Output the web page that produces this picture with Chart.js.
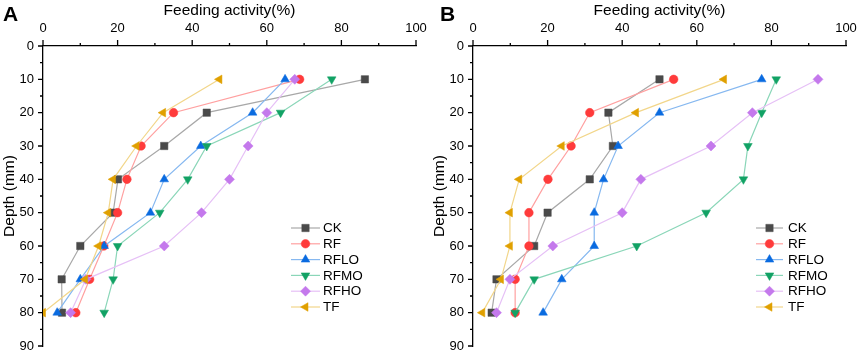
<!DOCTYPE html>
<html>
<head>
<meta charset="utf-8">
<script src="https://cdn.jsdelivr.net/npm/chart.js@4.4.1/dist/chart.umd.min.js"></script>
<style>
html,body{margin:0;padding:0;background:#fff;}
#wrap{position:relative;width:858px;height:352px;overflow:hidden;}
.pane{position:absolute;top:0;height:352px;}
.lbl{position:absolute;top:2px;font:bold 21px "Liberation Sans",Arial,sans-serif;color:#000;}
</style>
</head>
<body>
<div id="wrap">
  <div class="pane" style="left:0;width:430px;"><canvas id="cA"></canvas></div>
  <div class="pane" style="left:430px;width:428px;"><canvas id="cB"></canvas></div>
  <div class="lbl" style="left:3px;">A</div>
  <div class="lbl" style="left:440px;">B</div>
</div>
<script>
// ---- data ----
const depths = [10, 20, 30, 40, 50, 60, 70, 80];
const seriesNames = ["CK", "RF", "RFLO", "RFMO", "RFHO", "TF"];
const xTickValues = [0, 20, 40, 60, 80, 100];
const yTickValues = [0, 10, 20, 30, 40, 50, 60, 70, 80, 90];

const A_CK   = [86.3, 43.9, 32.5, 20.1, 18.8, 10.0, 5.0, 5.1];
const A_RF   = [68.8, 35.0, 26.3, 22.5, 20.0, 16.3, 12.5, 8.8];
const A_RFLO = [64.9, 56.2, 42.3, 32.5, 28.8, 16.4, 10.0, 3.8];
const A_RFMO = [77.4, 63.7, 43.9, 38.8, 31.3, 20.0, 18.8, 16.4];
const A_RFHO = [67.5, 60.0, 55.0, 50.0, 42.5, 32.5, 11.5, 7.4];
const A_TF   = [47.3, 32.2, 25.1, 18.8, 17.5, 14.9, 11.3, 0.0];

const B_CK   = [50.0, 36.3, 37.5, 31.3, 20.0, 16.4, 6.3, 5.0];
const B_RF   = [53.8, 31.3, 26.3, 20.1, 15.0, 15.0, 11.3, 11.3];
const B_RFLO = [77.4, 50.0, 38.9, 35.0, 32.5, 32.5, 23.8, 18.8];
const B_RFMO = [81.3, 77.4, 73.7, 72.5, 62.5, 43.9, 16.4, 11.3];
const B_RFHO = [92.5, 74.9, 63.8, 45.0, 40.0, 21.4, 9.9, 6.3];
const B_TF   = [67.3, 43.7, 23.8, 12.4, 9.9, 9.9, 7.5, 2.5];

// ---- styles ----
const FONT = '"Liberation Sans", Arial, sans-serif';
const styles = [
  {mark: '#4a4a4a', line: '#a8a8a8', ps: 'rect', r: 5.2, rot: 0},
  {mark: '#ff3b3b', line: '#ffa0a0', ps: 'circle', r: 4.3, rot: 0},
  {mark: '#0a6be0', line: '#86b8f0', ps: 'triangle', r: 5, rot: 0},
  {mark: '#12a265', line: '#8ad6b8', ps: 'triangle', r: 5, rot: 180},
  {mark: '#c479ec', line: '#e6c0f6', ps: 'rectRot', r: 5, rot: 0},
  {mark: '#e0a000', line: '#f2d68a', ps: 'triangle', r: 5, rot: 270}
];

function makeDatasets(arrs) {
  return arrs.map((vals, i) => ({
    label: seriesNames[i],
    data: vals.map((v, k) => ({x: v, y: depths[k]})),
    showLine: true,
    borderColor: styles[i].line,
    borderWidth: 1.2,
    pointStyle: styles[i].ps,
    pointRotation: styles[i].rot,
    pointRadius: styles[i].r,
    pointHoverRadius: styles[i].r,
    pointBackgroundColor: styles[i].mark,
    pointBorderColor: styles[i].mark,
    pointBorderWidth: 0.5,
    order: -i,
    tension: 0
  }));
}

function drawMarker(ctx, st, x, y) {
  ctx.save();
  ctx.fillStyle = st.mark;
  ctx.strokeStyle = st.mark;
  ctx.lineWidth = 0.5;
  Chart.helpers.drawPoint(ctx, {pointStyle: st.ps, radius: st.r, rotation: st.rot, borderWidth: 0.5}, x, y);
  ctx.restore();
}

const axesPlugin = {
  id: 'axesTicks',
  afterDraw(chart, args, opts) {
    const ctx = chart.ctx;
    const xs = chart.scales.x, ys = chart.scales.y;
    const ca = chart.chartArea;
    ctx.save();
    ctx.strokeStyle = '#000';
    ctx.lineWidth = 1.3;
    ctx.beginPath();
    for (let v = 0; v <= 100; v += 10) {
      const px = xs.getPixelForValue(v);
      const len = (v % 20 === 0) ? 6 : 3;
      ctx.moveTo(px, ca.top);
      ctx.lineTo(px, ca.top - len);
    }
    for (let v = 0; v <= 90; v += 5) {
      const py = ys.getPixelForValue(v);
      const len = (v % 10 === 0) ? 5 : 3;
      ctx.moveTo(ca.left, py);
      ctx.lineTo(ca.left - len, py);
    }
    ctx.stroke();
    // legend
    const lg = opts;
    ctx.font = '13.5px ' + FONT;
    ctx.textBaseline = 'middle';
    ctx.textAlign = 'left';
    chart.data.datasets.forEach((ds, i) => {
      const y = lg.y0 + i * lg.dy;
      const st = styles[i];
      ctx.strokeStyle = st.line;
      ctx.lineWidth = 1.2;
      ctx.beginPath();
      ctx.moveTo(lg.x0, y);
      ctx.lineTo(lg.x1, y);
      ctx.stroke();
      drawMarker(ctx, st, (lg.x0 + lg.x1) / 2, y);
      ctx.fillStyle = '#000';
      ctx.fillText(ds.label, lg.tx, y + 0.5);
    });
    ctx.restore();
  }
};

function makeChart(id, arrs, leftW, rightPad, legend) {
  return new Chart(document.getElementById(id), {
    type: 'scatter',
    data: {datasets: makeDatasets(arrs)},
    plugins: [axesPlugin],
    options: {
      responsive: true,
      maintainAspectRatio: false,
      animation: false,
      events: [],
      layout: {padding: {top: 0, left: 0, right: rightPad, bottom: 6}},
      plugins: {
        legend: {display: false},
        tooltip: {enabled: false},
        axesTicks: legend
      },
      scales: {
        x: {
          type: 'linear',
          position: 'top',
          min: 0, max: 100,
          afterBuildTicks(scale) { scale.ticks = xTickValues.map(v => ({value: v})); },
          afterFit(scale) { scale.height = 46; scale.paddingLeft = 0; scale.paddingRight = 0; },
          grid: {display: true, drawOnChartArea: false, drawTicks: true, tickLength: 6, color: 'rgba(0,0,0,0)'},
          border: {display: true, color: '#000', width: 1.3},
          ticks: {padding: 4, color: '#000', font: {family: FONT, size: 13}, maxRotation: 0},
          title: {display: true, text: 'Feeding activity(%)', color: '#000', font: {family: FONT, size: 15.5}, padding: {top: 1, bottom: 0}}
        },
        y: {
          type: 'linear',
          reverse: true,
          min: 0, max: 90,
          afterBuildTicks(scale) { scale.ticks = yTickValues.map(v => ({value: v})); },
          afterFit(scale) { scale.width = leftW; scale.paddingTop = 0; scale.paddingBottom = 0; },
          grid: {display: true, drawOnChartArea: false, drawTicks: true, tickLength: 5, color: 'rgba(0,0,0,0)'},
          border: {display: true, color: '#000', width: 1.3},
          ticks: {padding: 4, color: '#000', font: {family: FONT, size: 13}},
          title: {display: true, text: 'Depth (mm)', color: '#000', font: {family: FONT, size: 15.5}, padding: {top: 0, bottom: 0}}
        }
      }
    }
  });
}

makeChart('cA', [A_CK, A_RF, A_RFLO, A_RFMO, A_RFHO, A_TF], 43, 14, {x0: 291, x1: 320, tx: 323, y0: 228, dy: 15.8});
makeChart('cB', [B_CK, B_RF, B_RFLO, B_RFMO, B_RFHO, B_TF], 43, 12, {x0: 326, x1: 353, tx: 358, y0: 228, dy: 15.8});
</script>
</body>
</html>
